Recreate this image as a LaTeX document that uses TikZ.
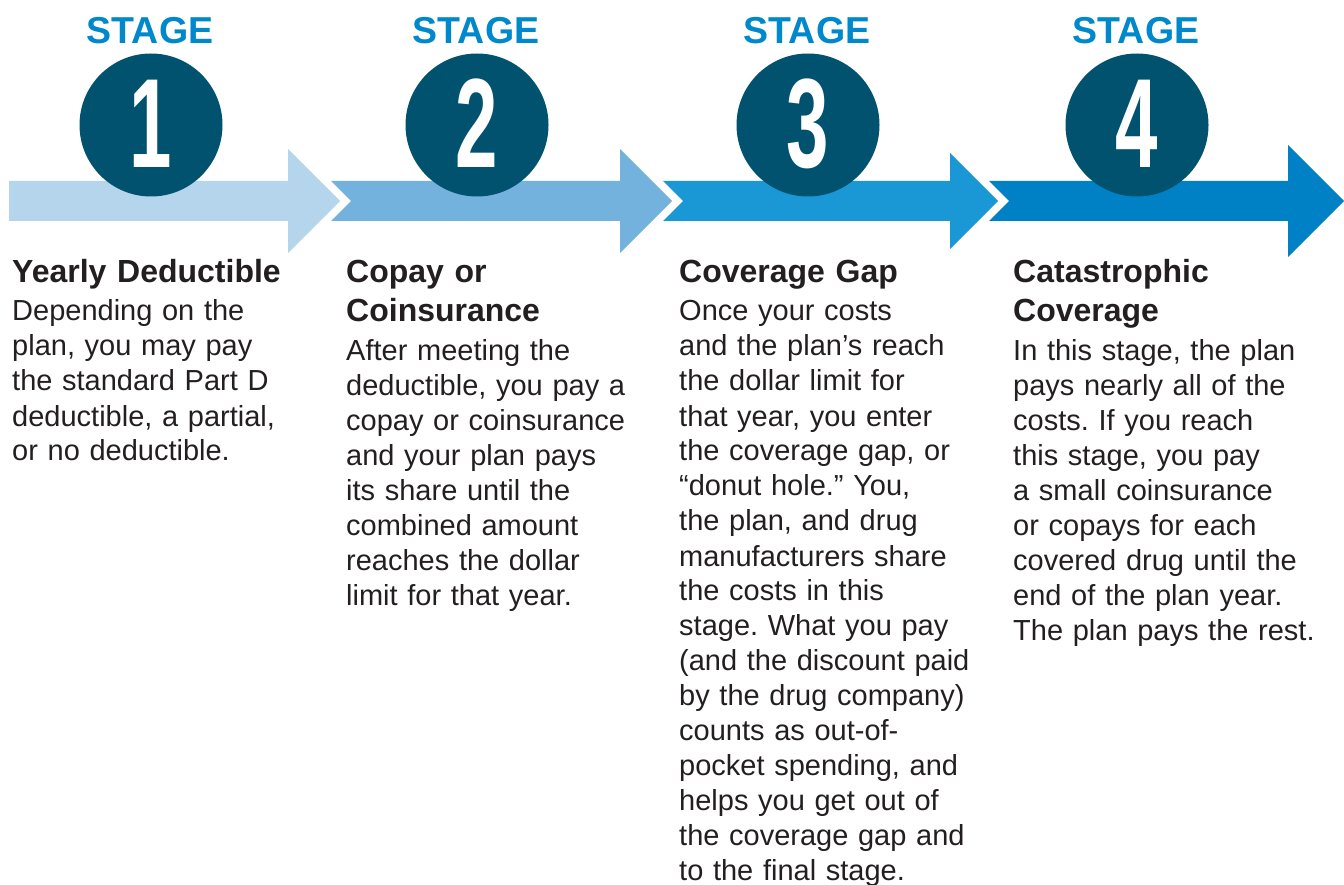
\documentclass[tikz,border=0pt]{standalone}
\usepackage{fontspec}
\setmainfont{Liberation Sans}
\newfontfamily\digitfont[FakeStretch=0.6]{Liberation Sans}
\frenchspacing

\definecolor{arrowA}{HTML}{B5D5EC}
\definecolor{arrowB}{HTML}{74B2DE}
\definecolor{arrowC}{HTML}{1A98D5}
\definecolor{arrowD}{HTML}{0081C6}
\definecolor{circleblue}{HTML}{00526F}
\definecolor{stageblue}{HTML}{0088CC}
\definecolor{bodytext}{HTML}{231F20}

\tikzset{
  stagecircle/.style={circle,fill=circleblue,minimum size=143pt,inner sep=0,
    text=white,text height=85pt,text depth=0pt,
    font=\digitfont\bfseries\fontsize{127}{127}\selectfont},
  stagelabel/.style={anchor=base,inner sep=0,text=stageblue,
    font=\bfseries\fontsize{37.5}{40}\selectfont},
  stagetitle/.style={anchor=base west,inner sep=0,text=bodytext,
    text width=330pt,align=left,font=\bfseries\fontsize{32}{39}\selectfont},
  stagebody/.style={anchor=base west,inner sep=0,text=bodytext,
    text width=330pt,align=left,font=\fontsize{29}{35}\selectfont}
}

\begin{document}
\begin{tikzpicture}[x=1pt,y=-1pt]
\useasboundingbox (0,0) rectangle (1344,885);

% arrows: start, notch, head back, head size
\foreach \s/\n/\b/\h/\col in {9/0/288/52/arrowA, 331/20/620/52/arrowB,
                              663/20/950/48/arrowC, 989/20/1288/56/arrowD}
  \fill[\col] (\s,181) -- (\b,181) -- (\b,201-\h) -- (\b+\h,201)
    -- (\b,201+\h) -- (\b,221) -- (\s,221) -- (\s+\n,201) -- cycle;

% circles and labels
\foreach \i/\x in {1/151,2/477,3/808,4/1137}{
  \node[stagecircle] (c\i) at (\x,125) {\i};
  \node[stagelabel] (s\i) at (\x-1,44) {STAGE};
}

\node[stagetitle] (t1) at (12,283) {Yearly Deductible};
\node[stagebody] (b1) at (12,321) {Depending on the\\
plan, you may pay\\
the standard Part D\\
deductible, a partial,\\
or no deductible.};

\node[stagetitle] (t2) at (346,283) {Copay or\\Coinsurance};
\node[stagebody] (b2) at (346,360) {After meeting the\\
deductible, you pay a\\
copay or coinsurance\\
and your plan pays\\
its share until the\\
combined amount\\
reaches the dollar\\
limit for that year.};

\node[stagetitle] (t3) at (679,283) {Coverage Gap};
\node[stagebody] (b3) at (679,321) {Once your costs\\
and the plan’s reach\\
the dollar limit for\\
that year, you enter\\
the coverage gap, or\\
“donut hole.” You,\\
the plan, and drug\\
manufacturers share\\
the costs in this\\
stage. What you pay\\
(and the discount paid\\
by the drug company)\\
counts as out-of-\\
pocket spending, and\\
helps you get out of\\
the coverage gap and\\
to the final stage.};

\node[stagetitle] (t4) at (1013,283) {Catastrophic\\Coverage};
\node[stagebody] (b4) at (1013,360) {In this stage, the plan\\
pays nearly all of the\\
costs. If you reach\\
this stage, you pay\\
a small coinsurance\\
or copays for each\\
covered drug until the\\
end of the plan year.\\
The plan pays the rest.};
\end{tikzpicture}
\end{document}
